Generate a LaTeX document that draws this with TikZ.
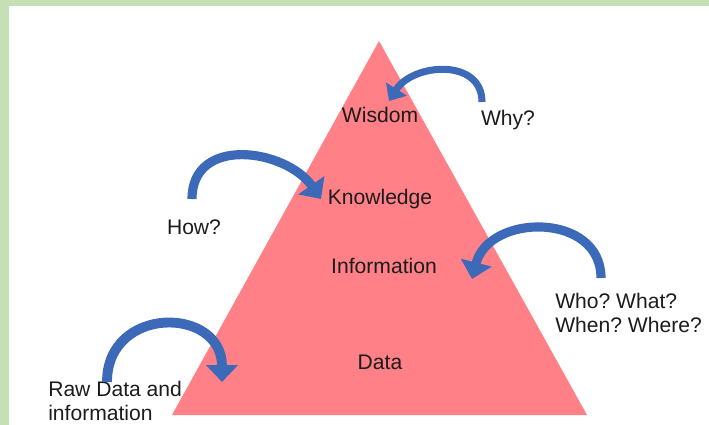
\documentclass[tikz,border=0pt]{standalone}
\usepackage{fontspec}
\setmainfont{Liberation Sans}
\usetikzlibrary{positioning,arrows.meta}
\definecolor{pyrpink}{RGB}{255,128,134}
\definecolor{arrblue}{RGB}{60,106,184}
\definecolor{framegreen}{RGB}{197,224,180}
\definecolor{txtgray}{RGB}{28,28,28}
\frenchspacing

\begin{document}
\begin{tikzpicture}[x=0.025cm,y=-0.025cm,
  lbl/.style={text=txtgray,font=\fontsize{15}{17.5}\selectfont,inner sep=0pt},
  curv/.style={draw=arrblue,line width=6.5pt,-{Triangle[length=12pt,width=22pt]}}]
  \useasboundingbox (0,0) rectangle (709,425);
  \fill[framegreen] (0,0) rectangle (709,6);
  \fill[framegreen] (0,0) rectangle (9,425);
  \fill[pyrpink] (172,415) -- (587,415) -- (379,41) -- cycle;
  \node[lbl] (wisdom) at (380,115) {Wisdom};
  \node[lbl] (knowledge) at (380,199) {Knowledge};
  \node[lbl] (information) at (384,266) {Information};
  \node[lbl] (data) at (380,362) {Data};
  \node[lbl] (why) at (508,120) {Why?};
  \node[lbl] (how) at (194,227) {How?};
  \node[lbl,align=left,anchor=west] (who) at (555,313) {Who? What?\\When? Where?};
  \node[lbl,align=left,anchor=west] (raw) at (48,401) {Raw Data and\\information};
  \coordinate (whytail) at (482,102);
  \coordinate (whytip) at (389,101);
  \coordinate (howtail) at (192,199);
  \coordinate (howtip) at (321,199);
  \coordinate (whotail) at (601,278);
  \coordinate (whotip) at (472,279);
  \coordinate (rawtail) at (107,382);
  \coordinate (rawtip) at (222,382);
  \draw[curv,line width=5pt,-{Triangle[length=10pt,width=17pt]}] (whytail) .. controls +(0,-44) and +(24,-38) .. (whytip);
  \draw[curv] (howtail) .. controls +(0,-64) and +(-35,-50) .. (howtip);
  \draw[curv] (whotail) .. controls +(0,-66) and +(17,-66) .. (whotip);
  \draw[curv,line width=7pt] (rawtail) .. controls +(0,-77) and +(0,-76) .. (rawtip);
\end{tikzpicture}
\end{document}
